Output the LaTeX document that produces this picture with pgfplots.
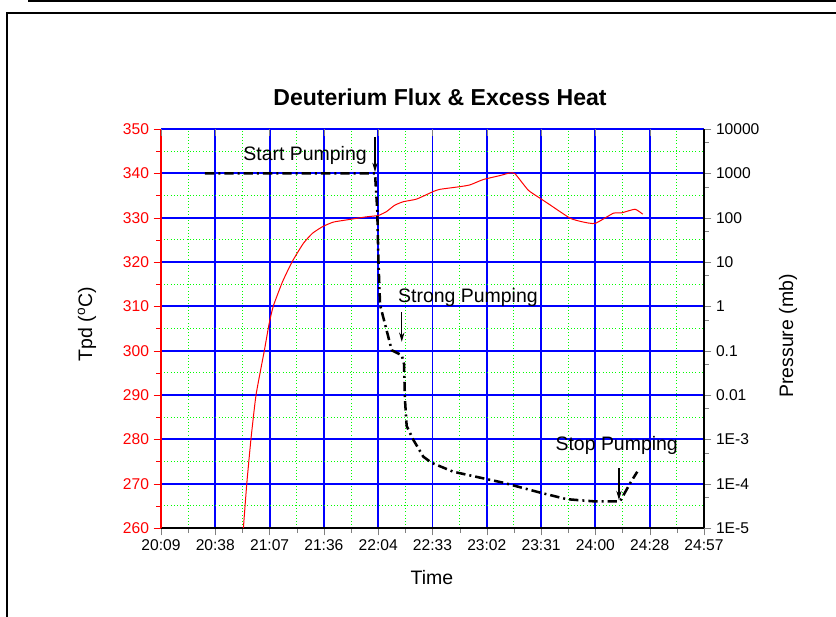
\documentclass[border=0pt]{standalone}
\usepackage{fontspec}
\setmainfont{Liberation Sans}
\usepackage{pgfplots}
\pgfplotsset{compat=1.18}
\usetikzlibrary{arrows.meta}

\pgfplotstableread{
t T
1253.3 260
1255.1 270
1257.3 280
1260.0 290
1264.4 300
1267.0 306.2
1269.2 310.1
1274.0 315.5
1279.2 320.1
1285.1 324.2
1290.0 326.5
1295.4 328
1301.0 329.0
1308.1 329.5
1318.7 330.2
1324.9 330.5
1329.3 331.4
1333.5 332.8
1338.1 333.6
1345.2 334.2
1354.0 335.9
1357.6 336.4
1368.2 337
1373.5 337.4
1380.5 338.6
1389.4 339.5
1394.7 340.1
1397.4 339.9
1404.4 336.2
1410.6 334.4
1415.9 332.9
1426.5 329.9
1432.7 329.1
1439.8 328.7
1449.5 331
1454.0 331.1
1461.0 331.9
1465.1 330.8
}\tempdata

\pgfplotstableread{
t P
1232.9 1000
1323.1 1000
1324.3 148
1324.9 11.2
1325.8 1.07
1332.0 0.102
1337.3 0.079
1338.5 0.05
1339.0 0.0078
1339.9 0.0020
1341.7 0.00138
1343.4 0.00098
1348.7 0.000407
1353.2 0.000295
1364.6 0.000186
1380.5 0.000132
1391.2 0.000105
1410.6 0.000063
1424.8 0.0000447
1438.9 0.0000400
1453.1 0.0000400
1458.4 0.000102
1462.2 0.000186
}\presdata

\begin{document}
\begin{tikzpicture}
\begin{scope}[x=0.75pt,y=-0.75pt]
\useasboundingbox (0,0) rectangle (836,617);
\draw[line width=1.5pt] (28,1.2) -- (836,1.2);
\draw[line width=1.5pt] (7,617) -- (7,13.3) -- (836,13.3);
\node[font=\bfseries\fontsize{17.3}{20}\selectfont] at (440,97) {Deuterium Flux \& Excess Heat};
\node[font=\fontsize{14.6}{17}\selectfont] at (432,578) {Time};
\node[font=\fontsize{14.6}{17}\selectfont, rotate=90] at (87,324) {Tpd (\textsuperscript{o}C)};
\node[font=\fontsize{14.6}{17}\selectfont, rotate=90] at (788,336) {Pressure (mb)};
\end{scope}

\begin{axis}[
 at={(120.75pt,-396pt)}, anchor=south west,
 scale only axis, width=407.25pt, height=299.25pt,
 xmin=1209.6, xmax=1497.6, ymin=260, ymax=350,
 axis x line*=bottom, axis y line*=left,
 xtick={1209.6,1238.4,1267.2,1296,1324.8,1353.6,1382.4,1411.2,1440,1468.8,1497.6},
 xticklabels={20:09,20:38,21:07,21:36,22:04,22:33,23:02,23:31,24:00,24:28,24:57},
 ytick={260,270,...,350},
 minor x tick num=1, minor y tick num=1,
 xmajorgrids, ymajorgrids, xminorgrids, yminorgrids,
 major grid style={draw=blue, line width=1.4pt},
 minor grid style={draw=green, dotted, line width=0.75pt},
 tick align=outside,
 major tick length=5.5pt, minor tick length=3.5pt,
 x axis line style={black, line width=1.2pt, -},
 y axis line style={red, line width=1.2pt, -},
 ytick style={red},
 x tick label style={font=\fontsize{11.7}{14}\selectfont, black},
 y tick label style={font=\fontsize{11.7}{14}\selectfont, red},
 /pgf/number format/assume math mode=true,
]
\addplot[red, line width=0.75pt, smooth, tension=0.3] table[x=t, y=T] {\tempdata};
\draw[-{Stealth[length=7pt,width=4pt]}, line width=0.8pt] (axis cs:1323.1,348.2) -- (axis cs:1323.1,340.3);
\draw[-{Stealth[length=7pt,width=4pt]}, line width=0.8pt] (axis cs:1337.3,308.7) -- (axis cs:1337.3,302);
\draw[-{Stealth[length=7pt,width=4pt]}, line width=0.8pt] (axis cs:1452.5,273.5) -- (axis cs:1452.5,266.3);
\node[font=\fontsize{14.6}{17}\selectfont] at (axis cs:1286.0,344.1) {Start Pumping};
\node[font=\fontsize{14.6}{17}\selectfont] at (axis cs:1372.4,311.9) {Strong Pumping};
\node[font=\fontsize{14.6}{17}\selectfont] at (axis cs:1451.3,278.6) {Stop Pumping};
\end{axis}

\begin{axis}[
 at={(120.75pt,-396pt)}, anchor=south west,
 scale only axis, width=407.25pt, height=299.25pt,
 xmin=1209.6, xmax=1497.6,
 ymode=log, ymin=1e-5, ymax=1e4,
 axis y line*=right, axis x line*=top,
 x axis line style={draw=none},
 xtick={1209.6,1238.4,1267.2,1296,1324.8,1353.6,1382.4,1411.2,1440,1468.8,1497.6},
 xticklabels={},
 xtick align=inside, ytick align=outside,
 ytick={1e-5,1e-4,1e-3,1e-2,1e-1,1,10,100,1000,10000},
 yticklabels={1E-5,1E-4,1E-3,0.01,0.1,1,10,100,1000,10000},
 minor ytick={5e-5,5e-4,5e-3,5e-2,0.5,5,50,500,5000},
 major tick length=5.5pt, minor tick length=3.5pt,
 y axis line style={black, line width=1.2pt, -},
 y tick label style={font=\fontsize{11.7}{14}\selectfont, black},
]
\addplot[black, line width=1.9pt, dash pattern=on 7pt off 3pt on 1.5pt off 3pt] table[x=t, y=P] {\presdata};
\end{axis}
\end{tikzpicture}
\end{document}
